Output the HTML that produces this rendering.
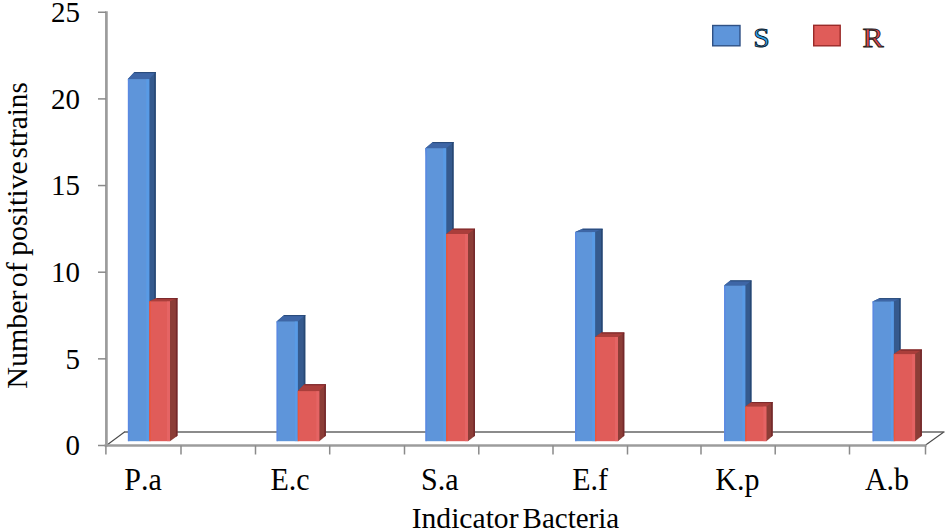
<!DOCTYPE html>
<html><head><meta charset="utf-8"><style>
html,body{margin:0;padding:0;background:#fff;}
svg{display:block;}
text{font-family:"Liberation Serif",serif;font-kerning:none;}
</style></head><body>
<svg width="950" height="531" viewBox="0 0 950 531">
<rect width="950" height="531" fill="#fff"/>
<line x1="124" y1="432" x2="944.5" y2="432" stroke="#646464" stroke-width="1.6"/>
<polyline points="106.3,445.5 124.5,432" fill="none" stroke="#4a4a4a" stroke-width="1.1"/>
<polyline points="925.7,445 943.5,432.3" fill="none" stroke="#4a4a4a" stroke-width="1.1"/>
<line x1="106.4" y1="11.3" x2="106.4" y2="446.5" stroke="#9c9c9c" stroke-width="2.7"/>
<line x1="98" y1="445.5" x2="106" y2="445.5" stroke="#8a8a8a" stroke-width="1.5"/>
<text transform="translate(80,455.2) scale(1,1.04)" font-size="29" text-anchor="end">0</text>
<line x1="98" y1="358.85" x2="106" y2="358.85" stroke="#8a8a8a" stroke-width="1.5"/>
<text transform="translate(80,368.55) scale(1,1.04)" font-size="29" text-anchor="end">5</text>
<line x1="98" y1="272.2" x2="106" y2="272.2" stroke="#8a8a8a" stroke-width="1.5"/>
<text transform="translate(80,281.9) scale(1,1.04)" font-size="29" text-anchor="end">10</text>
<line x1="98" y1="185.55" x2="106" y2="185.55" stroke="#8a8a8a" stroke-width="1.5"/>
<text transform="translate(80,195.25) scale(1,1.04)" font-size="29" text-anchor="end">15</text>
<line x1="98" y1="98.9" x2="106" y2="98.9" stroke="#8a8a8a" stroke-width="1.5"/>
<text transform="translate(80,108.6) scale(1,1.04)" font-size="29" text-anchor="end">20</text>
<line x1="98" y1="12.25" x2="106" y2="12.25" stroke="#8a8a8a" stroke-width="1.5"/>
<text transform="translate(80,21.95) scale(1,1.04)" font-size="29" text-anchor="end">25</text>
<polygon points="127.9,79.1 134.4,72.1 155.8,72.1 155.8,435.7 149.3,441.2" fill="#355a8e"/>
<polygon points="154.2,72.6 155.8,72.1 155.8,435.7 154.2,436.9" fill="#24446e" opacity="0.8"/>
<polygon points="127.9,79.1 134.4,72.1 155.8,72.1 149.3,79.1" fill="#3e66a6"/>
<line x1="134.4" y1="72.6" x2="155.8" y2="72.6" stroke="#24446e" stroke-width="1" opacity="0.8"/>
<rect x="127.9" y="79.1" width="21.4" height="362.1" fill="#5e95da"/>
<rect x="127.9" y="79.1" width="1.4" height="362.1" fill="#5a86e4" opacity="0.8"/>
<rect x="146.3" y="79.1" width="3" height="362.1" fill="#56a0ee" opacity="0.6"/>
<polygon points="149.3,301.3 156.8,298.1 177.5,298.1 177.5,435.7 170,441.2" fill="#8c3d37"/>
<polygon points="175.9,298.6 177.5,298.1 177.5,435.7 175.9,436.9" fill="#6e2428" opacity="0.8"/>
<polygon points="149.3,301.3 156.8,298.1 177.5,298.1 170,301.3" fill="#aa3e3b"/>
<line x1="156.8" y1="298.6" x2="177.5" y2="298.6" stroke="#6e2428" stroke-width="1" opacity="0.8"/>
<rect x="149.3" y="301.3" width="20.7" height="139.9" fill="#e05c59"/>
<rect x="149.3" y="301.3" width="1.4" height="139.9" fill="#f05532" opacity="0.8"/>
<rect x="167" y="301.3" width="3" height="139.9" fill="#e8696c" opacity="0.6"/>
<polygon points="276.6,321.4 284.1,315.1 305.3,315.1 305.3,435.7 297.8,441.2" fill="#355a8e"/>
<polygon points="303.7,315.6 305.3,315.1 305.3,435.7 303.7,436.9" fill="#24446e" opacity="0.8"/>
<polygon points="276.6,321.4 284.1,315.1 305.3,315.1 297.8,321.4" fill="#3e66a6"/>
<line x1="284.1" y1="315.6" x2="305.3" y2="315.6" stroke="#24446e" stroke-width="1" opacity="0.8"/>
<rect x="276.6" y="321.4" width="21.2" height="119.8" fill="#5e95da"/>
<rect x="276.6" y="321.4" width="1.4" height="119.8" fill="#5a86e4" opacity="0.8"/>
<rect x="294.8" y="321.4" width="3" height="119.8" fill="#56a0ee" opacity="0.6"/>
<polygon points="297.8,391.1 304.4,384.3 325.9,384.3 325.9,435.7 319.3,441.2" fill="#8c3d37"/>
<polygon points="324.3,384.8 325.9,384.3 325.9,435.7 324.3,436.9" fill="#6e2428" opacity="0.8"/>
<polygon points="297.8,391.1 304.4,384.3 325.9,384.3 319.3,391.1" fill="#aa3e3b"/>
<line x1="304.4" y1="384.8" x2="325.9" y2="384.8" stroke="#6e2428" stroke-width="1" opacity="0.8"/>
<rect x="297.8" y="391.1" width="21.5" height="50.1" fill="#e05c59"/>
<rect x="297.8" y="391.1" width="1.4" height="50.1" fill="#f05532" opacity="0.8"/>
<rect x="316.3" y="391.1" width="3" height="50.1" fill="#e8696c" opacity="0.6"/>
<polygon points="425.4,148.2 432.8,142.1 453.6,142.1 453.6,435.7 446.2,441.2" fill="#355a8e"/>
<polygon points="452,142.6 453.6,142.1 453.6,435.7 452,436.9" fill="#24446e" opacity="0.8"/>
<polygon points="425.4,148.2 432.8,142.1 453.6,142.1 446.2,148.2" fill="#3e66a6"/>
<line x1="432.8" y1="142.6" x2="453.6" y2="142.6" stroke="#24446e" stroke-width="1" opacity="0.8"/>
<rect x="425.4" y="148.2" width="20.8" height="293" fill="#5e95da"/>
<rect x="425.4" y="148.2" width="1.4" height="293" fill="#5a86e4" opacity="0.8"/>
<rect x="443.2" y="148.2" width="3" height="293" fill="#56a0ee" opacity="0.6"/>
<polygon points="446.2,234 453.2,228.7 475,228.7 475,435.7 468,441.2" fill="#8c3d37"/>
<polygon points="473.4,229.2 475,228.7 475,435.7 473.4,436.9" fill="#6e2428" opacity="0.8"/>
<polygon points="446.2,234 453.2,228.7 475,228.7 468,234" fill="#aa3e3b"/>
<line x1="453.2" y1="229.2" x2="475" y2="229.2" stroke="#6e2428" stroke-width="1" opacity="0.8"/>
<rect x="446.2" y="234" width="21.8" height="207.2" fill="#e05c59"/>
<rect x="446.2" y="234" width="1.4" height="207.2" fill="#f05532" opacity="0.8"/>
<rect x="465" y="234" width="3" height="207.2" fill="#e8696c" opacity="0.6"/>
<polygon points="575.1,232.1 582.6,228.8 602.6,228.8 602.6,435.7 595.1,441.2" fill="#355a8e"/>
<polygon points="601,229.3 602.6,228.8 602.6,435.7 601,436.9" fill="#24446e" opacity="0.8"/>
<polygon points="575.1,232.1 582.6,228.8 602.6,228.8 595.1,232.1" fill="#3e66a6"/>
<line x1="582.6" y1="229.3" x2="602.6" y2="229.3" stroke="#24446e" stroke-width="1" opacity="0.8"/>
<rect x="575.1" y="232.1" width="20" height="209.1" fill="#5e95da"/>
<rect x="575.1" y="232.1" width="1.4" height="209.1" fill="#5a86e4" opacity="0.8"/>
<rect x="592.1" y="232.1" width="3" height="209.1" fill="#56a0ee" opacity="0.6"/>
<polygon points="595.1,337 601.4,332.5 624.3,332.5 624.3,435.7 618,441.2" fill="#8c3d37"/>
<polygon points="622.7,333 624.3,332.5 624.3,435.7 622.7,436.9" fill="#6e2428" opacity="0.8"/>
<polygon points="595.1,337 601.4,332.5 624.3,332.5 618,337" fill="#aa3e3b"/>
<line x1="601.4" y1="333" x2="624.3" y2="333" stroke="#6e2428" stroke-width="1" opacity="0.8"/>
<rect x="595.1" y="337" width="22.9" height="104.2" fill="#e05c59"/>
<rect x="595.1" y="337" width="1.4" height="104.2" fill="#f05532" opacity="0.8"/>
<rect x="615" y="337" width="3" height="104.2" fill="#e8696c" opacity="0.6"/>
<polygon points="724.1,285.6 730.3,280.4 751.5,280.4 751.5,435.7 745.3,441.2" fill="#355a8e"/>
<polygon points="749.9,280.9 751.5,280.4 751.5,435.7 749.9,436.9" fill="#24446e" opacity="0.8"/>
<polygon points="724.1,285.6 730.3,280.4 751.5,280.4 745.3,285.6" fill="#3e66a6"/>
<line x1="730.3" y1="280.9" x2="751.5" y2="280.9" stroke="#24446e" stroke-width="1" opacity="0.8"/>
<rect x="724.1" y="285.6" width="21.2" height="155.6" fill="#5e95da"/>
<rect x="724.1" y="285.6" width="1.4" height="155.6" fill="#5a86e4" opacity="0.8"/>
<rect x="742.3" y="285.6" width="3" height="155.6" fill="#56a0ee" opacity="0.6"/>
<polygon points="745.3,406.5 751.6,402.1 772.7,402.1 772.7,435.7 766.4,441.2" fill="#8c3d37"/>
<polygon points="771.1,402.6 772.7,402.1 772.7,435.7 771.1,436.9" fill="#6e2428" opacity="0.8"/>
<polygon points="745.3,406.5 751.6,402.1 772.7,402.1 766.4,406.5" fill="#aa3e3b"/>
<line x1="751.6" y1="402.6" x2="772.7" y2="402.6" stroke="#6e2428" stroke-width="1" opacity="0.8"/>
<rect x="745.3" y="406.5" width="21.1" height="34.7" fill="#e05c59"/>
<rect x="745.3" y="406.5" width="1.4" height="34.7" fill="#f05532" opacity="0.8"/>
<rect x="763.4" y="406.5" width="3" height="34.7" fill="#e8696c" opacity="0.6"/>
<polygon points="872.6,301.5 879.4,298.2 900.6,298.2 900.6,435.7 893.8,441.2" fill="#355a8e"/>
<polygon points="899,298.7 900.6,298.2 900.6,435.7 899,436.9" fill="#24446e" opacity="0.8"/>
<polygon points="872.6,301.5 879.4,298.2 900.6,298.2 893.8,301.5" fill="#3e66a6"/>
<line x1="879.4" y1="298.7" x2="900.6" y2="298.7" stroke="#24446e" stroke-width="1" opacity="0.8"/>
<rect x="872.6" y="301.5" width="21.2" height="139.7" fill="#5e95da"/>
<rect x="872.6" y="301.5" width="1.4" height="139.7" fill="#5a86e4" opacity="0.8"/>
<rect x="890.8" y="301.5" width="3" height="139.7" fill="#56a0ee" opacity="0.6"/>
<polygon points="893.8,354.1 900.6,349.6 921.9,349.6 921.9,435.7 915.1,441.2" fill="#8c3d37"/>
<polygon points="920.3,350.1 921.9,349.6 921.9,435.7 920.3,436.9" fill="#6e2428" opacity="0.8"/>
<polygon points="893.8,354.1 900.6,349.6 921.9,349.6 915.1,354.1" fill="#aa3e3b"/>
<line x1="900.6" y1="350.1" x2="921.9" y2="350.1" stroke="#6e2428" stroke-width="1" opacity="0.8"/>
<rect x="893.8" y="354.1" width="21.3" height="87.1" fill="#e05c59"/>
<rect x="893.8" y="354.1" width="1.4" height="87.1" fill="#f05532" opacity="0.8"/>
<rect x="912.1" y="354.1" width="3" height="87.1" fill="#e8696c" opacity="0.6"/>
<line x1="104.5" y1="445.5" x2="926.5" y2="445.5" stroke="#9c9c9c" stroke-width="2.6"/>
<line x1="105.9" y1="445.5" x2="105.9" y2="454.5" stroke="#8a8a8a" stroke-width="1.5"/>
<line x1="181" y1="445.5" x2="181" y2="454.5" stroke="#8a8a8a" stroke-width="1.5"/>
<line x1="255.5" y1="445.5" x2="255.5" y2="454.5" stroke="#8a8a8a" stroke-width="1.5"/>
<line x1="329.7" y1="445.5" x2="329.7" y2="454.5" stroke="#8a8a8a" stroke-width="1.5"/>
<line x1="404.5" y1="445.5" x2="404.5" y2="454.5" stroke="#8a8a8a" stroke-width="1.5"/>
<line x1="478.8" y1="445.5" x2="478.8" y2="454.5" stroke="#8a8a8a" stroke-width="1.5"/>
<line x1="553" y1="445.5" x2="553" y2="454.5" stroke="#8a8a8a" stroke-width="1.5"/>
<line x1="627.5" y1="445.5" x2="627.5" y2="454.5" stroke="#8a8a8a" stroke-width="1.5"/>
<line x1="701" y1="445.5" x2="701" y2="454.5" stroke="#8a8a8a" stroke-width="1.5"/>
<line x1="775.2" y1="445.5" x2="775.2" y2="454.5" stroke="#8a8a8a" stroke-width="1.5"/>
<line x1="849.5" y1="445.5" x2="849.5" y2="454.5" stroke="#8a8a8a" stroke-width="1.5"/>
<line x1="925.5" y1="445.5" x2="925.5" y2="454.5" stroke="#8a8a8a" stroke-width="1.5"/>
<text transform="translate(143,490) scale(1,1.04)" font-size="30" text-anchor="middle">P.a</text>
<text transform="translate(290.05,490) scale(1,1.04)" font-size="30" text-anchor="middle">E.c</text>
<text transform="translate(439.75,490) scale(1,1.04)" font-size="30" text-anchor="middle">S.a</text>
<text transform="translate(590.1,490) scale(1,1.04)" font-size="30" text-anchor="middle">E.f</text>
<text transform="translate(737.4,490) scale(1,1.04)" font-size="30" text-anchor="middle">K.p</text>
<text transform="translate(886.95,490) scale(1,1.04)" font-size="30" text-anchor="middle">A.b</text>
<text y="528.2" font-size="29.6"><tspan x="411.7">Indicator</tspan><tspan x="522.6" font-size="29">Bacteria</tspan></text>
<text transform="translate(27,389) rotate(-90)" y="0" font-size="30"><tspan x="0.3">Number</tspan><tspan x="101.8">of</tspan><tspan x="132.9">positive</tspan><tspan x="230.6" font-size="29.2">strains</tspan></text>
<rect x="712.7" y="25.5" width="27.3" height="20.3" fill="#5e95da" stroke="#2f5185" stroke-width="1.4"/>
<rect x="813.7" y="25.3" width="26.5" height="20.5" fill="#e05c59" stroke="#9a2a28" stroke-width="1.4"/>
<text transform="translate(753.3,46.9) scale(1.06,1)" font-size="28" fill="#2fa4ee" stroke="#0c1426" stroke-width="0.9">S</text>
<text transform="translate(862.6,46.9) scale(1.13,1)" font-size="28" fill="#e4484c" stroke="#222" stroke-width="0.9">R</text>
</svg></body></html>
